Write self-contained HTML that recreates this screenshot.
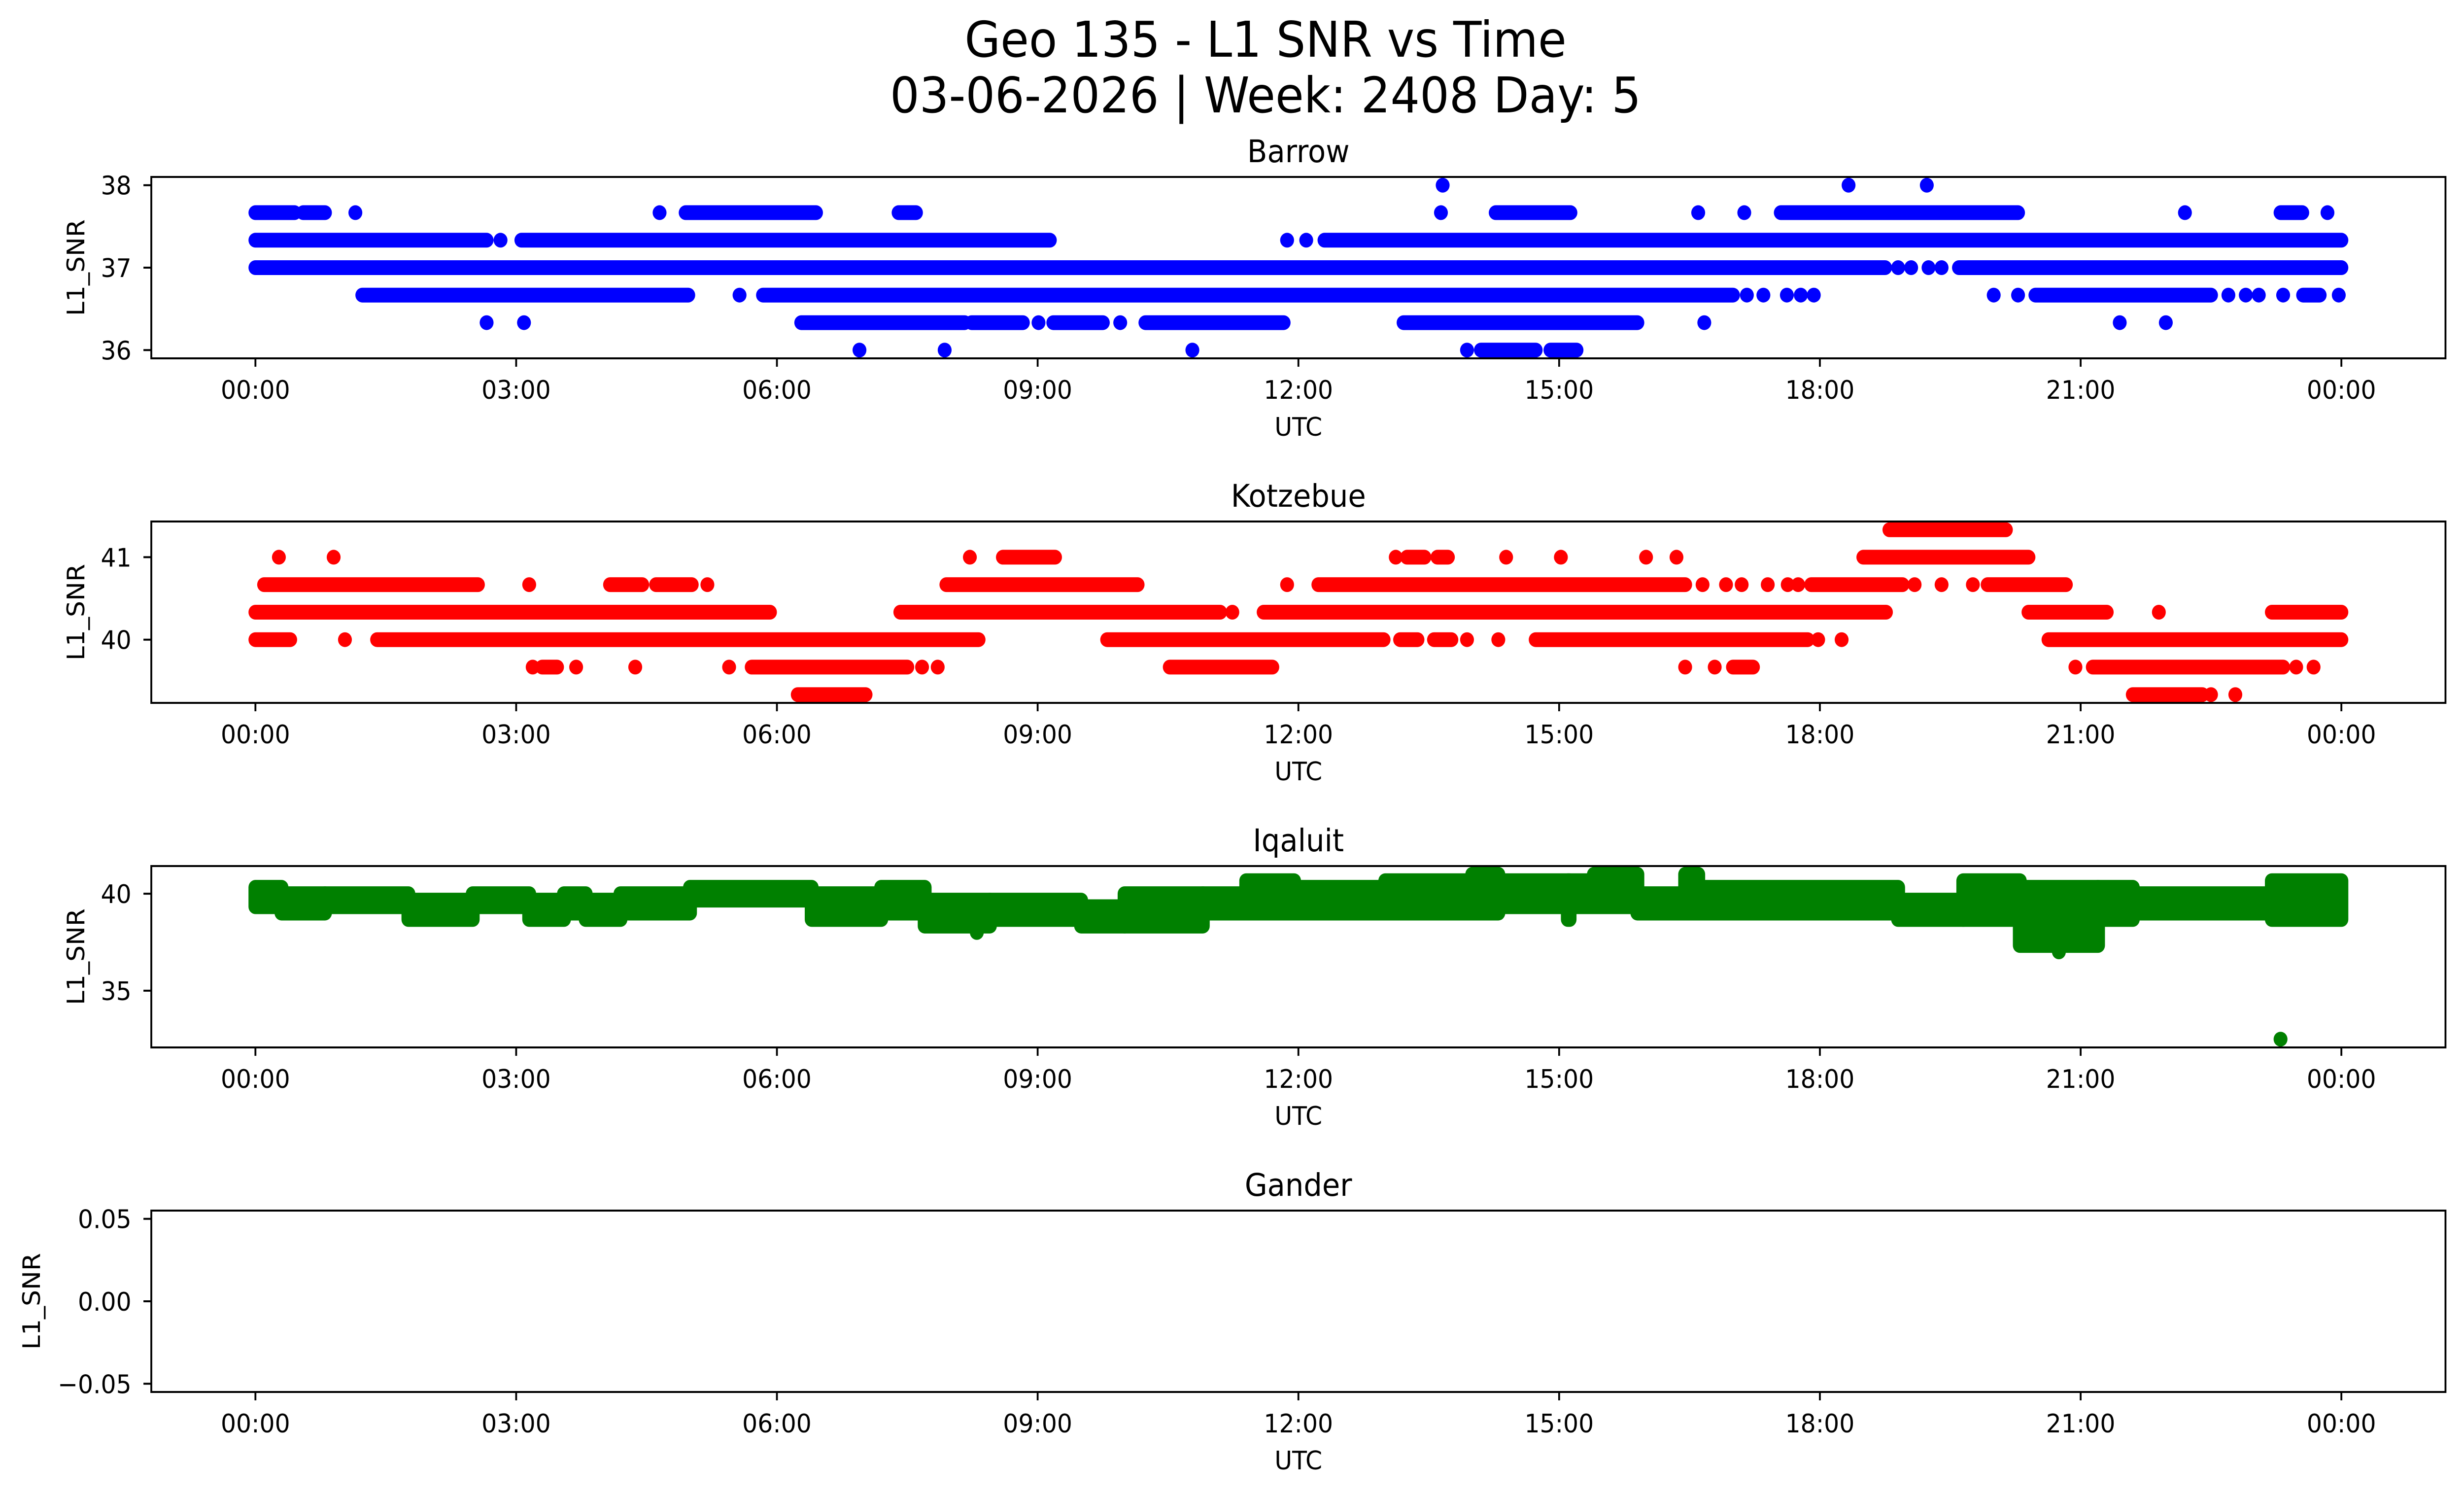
<!DOCTYPE html>
<html><head><meta charset="utf-8"><style>
html,body{margin:0;padding:0;background:#fff;overflow:hidden;width:100vw;height:100vh}
svg{display:block;width:100vw;height:100vh}
text{font-family:"DejaVu Sans","Liberation Sans",sans-serif;fill:#000}
</style></head><body>
<svg id="fig" xmlns="http://www.w3.org/2000/svg" viewBox="0 0 5325 3033" preserveAspectRatio="none">
<rect width="5325" height="3033" fill="#fff"/>
<text x="2735" y="115" font-size="100" text-anchor="middle">Geo 135 - L1 SNR vs Time</text>
<text x="2735" y="228" font-size="100" text-anchor="middle">03-06-2026 | Week: 2408 Day: 5</text>
</svg>
<script>
// ---- data (hours UTC, SNR) ----
const xTickLabels = ["00:00","03:00","06:00","09:00","12:00","15:00","18:00","21:00","00:00"];
const stationNames = ["Barrow","Kotzebue","Iqaluit","Gander"];
// Barrow runs: [startHour, endHour, snr]
const barrowRuns = [
 [13.66,13.66,38],[18.33,18.33,38],[19.23,19.23,38],
 [0,0.45,37.667],[0.55,0.8,37.667],[1.15,1.15,37.667],[4.65,4.65,37.667],[4.95,6.45,37.667],[7.4,7.6,37.667],[13.64,13.64,37.667],[14.27,15.13,37.667],[16.6,16.6,37.667],[17.13,17.13,37.667],[17.55,20.28,37.667],[22.2,22.2,37.667],[23.3,23.55,37.667],[23.84,23.84,37.667],
 [0,2.66,37.333],[2.82,2.82,37.333],[3.06,9.14,37.333],[11.87,11.87,37.333],[12.09,12.09,37.333],[12.3,24,37.333],
 [0,18.75,37],[18.9,18.9,37],[19.05,19.05,37],[19.25,19.25,37],[19.4,19.4,37],[19.6,24,37],
 [1.23,4.98,36.667],[5.57,5.57,36.667],[5.84,17.0,36.667],[17.16,17.16,36.667],[17.35,17.35,36.667],[17.62,17.62,36.667],[17.78,17.78,36.667],[17.93,17.93,36.667],[20.0,20.0,36.667],[20.28,20.28,36.667],[20.48,22.5,36.667],[22.7,22.7,36.667],[22.9,22.9,36.667],[23.05,23.05,36.667],[23.33,23.33,36.667],[23.56,23.75,36.667],[23.97,23.97,36.667],
 [2.66,2.66,36.333],[3.09,3.09,36.333],[6.28,8.16,36.333],[8.24,8.83,36.333],[9.01,9.01,36.333],[9.18,9.75,36.333],[9.95,9.95,36.333],[10.24,11.83,36.333],[13.21,15.9,36.333],[16.67,16.67,36.333],[21.45,21.45,36.333],[21.98,21.98,36.333],
 [6.95,6.95,36],[7.93,7.93,36],[10.78,10.78,36],[13.94,13.94,36],[14.1,14.73,36],[14.9,15.2,36]
];
const kotzebueRuns = [
 [18.8,20.14,41.333],
 [0.27,0.27,41],[0.9,0.9,41],[8.22,8.22,41],[8.6,9.2,41],[13.12,13.12,41],[13.25,13.45,41],[13.6,13.72,41],[14.39,14.39,41],[15.02,15.02,41],[16.0,16.0,41],[16.35,16.35,41],[18.5,20.4,41],
 [0.1,2.56,40.667],[3.15,3.15,40.667],[4.08,4.45,40.667],[4.61,5.02,40.667],[5.2,5.2,40.667],[7.95,10.15,40.667],[11.87,11.87,40.667],[12.23,16.45,40.667],[16.65,16.65,40.667],[16.92,16.92,40.667],[17.1,17.1,40.667],[17.4,17.4,40.667],[17.63,17.63,40.667],[17.75,17.75,40.667],[17.9,18.95,40.667],[19.09,19.09,40.667],[19.4,19.4,40.667],[19.76,19.76,40.667],[19.93,20.83,40.667],
 [0,5.92,40.333],[7.42,11.1,40.333],[11.24,11.24,40.333],[11.6,18.76,40.333],[20.4,21.3,40.333],[21.9,21.9,40.333],[23.2,24,40.333],
 [0,0.4,40],[1.03,1.03,40],[1.4,8.32,40],[9.8,12.98,40],[13.17,13.37,40],[13.56,13.76,40],[13.94,13.94,40],[14.3,14.3,40],[14.73,17.86,40],[17.98,17.98,40],[18.25,18.25,40],[20.63,24,40],
 [3.19,3.19,39.667],[3.3,3.47,39.667],[3.69,3.69,39.667],[4.37,4.37,39.667],[5.45,5.45,39.667],[5.71,7.5,39.667],[7.67,7.67,39.667],[7.85,7.85,39.667],[10.52,11.7,39.667],[16.45,16.45,39.667],[16.79,16.79,39.667],[17,17.23,39.667],[20.94,20.94,39.667],[21.14,23.33,39.667],[23.48,23.48,39.667],[23.68,23.68,39.667],
 [6.24,7.02,39.333],[21.6,22.4,39.333],[22.5,22.5,39.333],[22.78,22.78,39.333]
];
// Iqaluit: [startHour, endHour, highSNR, lowSNR]
const iqaluitBands = [
 [0,0.3,40.33,39.33],[0.3,0.8,40,39],[0.8,1.76,40,39.33],[1.76,2.5,39.67,38.67],[2.5,3.15,40,39.33],[3.15,3.55,39.67,38.67],[3.55,3.8,40,39],[3.8,4.2,39.67,38.67],[4.2,5.0,40,39],[5.0,6.4,40.33,39.67],[6.4,7.2,40,38.67],[7.2,7.7,40.33,39],[7.7,8.45,39.67,38.33],[8.3,8.3,38,38],[8.45,9.5,39.67,38.67],[9.5,10,39.33,38.33],[10,10.9,40,38.33],[10.9,11.4,40,39],[11.4,11.95,40.67,39],[11.95,13.0,40.33,39],[13,14,40.67,39],[14,14.3,41,39],[14.3,15.4,40.67,39.33],[15.1,15.12,40.67,38.67],[15.4,15.9,41,39.33],[15.9,16.45,40,39],[16.45,16.6,41,39],[16.6,18.9,40.33,39],[18.9,19.65,39.67,38.67],[19.65,20.3,40.67,38.67],[20.3,21.2,40.33,37.33],[20.75,20.75,37,37],[21.2,21.6,40.33,38.67],[21.6,23.2,40,39],[23.2,24,40.67,38.67],[23.3,23.3,32.5,32.5]
];
const barrowTicks=[36,37,38], kotzebueTicks=[40,41], iqaluitTicks=[35,40], ganderTicks=[-0.05,0,0.05];
const ganderTickLabels=["\u22120.05","0.00","0.05"];

// ---- layout ----
const NS="http://www.w3.org/2000/svg", svg=document.getElementById('fig');
const L=327,R=5285,H=368, tops=[359,1058,1757,2456];
const x0=552, pxh=(5060-552)/24;
function xs(h){return x0+h*pxh;}
function mk(tag,attrs,parent){const e=document.createElementNS(NS,tag);for(const k in attrs)e.setAttribute(k,attrs[k]);(parent||svg).appendChild(e);return e;}
const panels=[
 {ylim:[35.9,38.1],ticks:barrowTicks,labels:barrowTicks.map(String),color:"#0000ff",ylx:163},
 {ylim:[39.233,41.433],ticks:kotzebueTicks,labels:kotzebueTicks.map(String),color:"#ff0000",ylx:163},
 {ylim:[32.075,41.425],ticks:iqaluitTicks,labels:iqaluitTicks.map(String),color:"#008000",ylx:163},
 {ylim:[-0.055,0.055],ticks:ganderTicks,labels:ganderTickLabels,color:"#000",ylx:67}
];
panels.forEach((p,i)=>{
 const top=tops[i], bot=top+H;
 const ys=v=>bot-(v-p.ylim[0])/(p.ylim[1]-p.ylim[0])*H;
 const g=mk('g',{});
 
 
 const t=mk('text',{x:(L+R)/2,y:top-30,'font-size':63,'text-anchor':'middle'},g);t.textContent=stationNames[i];
 
 
 const marks=mk('g',{fill:p.color},g);
 
 
 const draw=(a,b,hi,lo)=>{const r=mk('rect',{x:xs(a)-15,y:ys(hi)-15,width:xs(b)-xs(a)+30,height:ys(lo)-ys(hi)+30,rx:15,ry:15},marks);
  
  };
 if(i===0) barrowRuns.forEach(d=>draw(d[0],d[1],d[2],d[2]));
 if(i===1) kotzebueRuns.forEach(d=>draw(d[0],d[1],d[2],d[2]));
 if(i===2) iqaluitBands.forEach(d=>draw(d[0],d[1],d[2],d[3]));
 const fr=mk('rect',{x:L,y:top,width:R-L,height:H,fill:'none',stroke:'#000','stroke-width':4},g);
 
 
 xTickLabels.forEach((lb,k)=>{const x=xs(k*3);
  mk('line',{x1:x,x2:x,y1:bot,y2:bot+17,stroke:'#000','stroke-width':4},g);
  const tx=mk('text',{x:x,y:bot+82,'font-size':52,'text-anchor':'middle'},g);tx.textContent=lb;
  
  });
 p.ticks.forEach((v,k)=>{const y=ys(v);
  mk('line',{x1:L-17,x2:L,y1:y,y2:y,stroke:'#000','stroke-width':4},g);
  const ty=mk('text',{x:284,y:y+19,'font-size':52,'text-anchor':'end'},g);ty.textContent=p.labels[k];
  
  });
 const xl=mk('text',{x:(L+R)/2,y:bot+157,'font-size':52,'text-anchor':'middle'},g);xl.textContent="UTC";
 
 
 const cy=top+H/2;
 const yl=mk('text',{x:p.ylx+19,y:cy,'font-size':52,'text-anchor':'middle',transform:`rotate(-90 ${p.ylx+19} ${cy})`},g);yl.textContent="L1_SNR";
 
 
});
</script>
</body></html>
